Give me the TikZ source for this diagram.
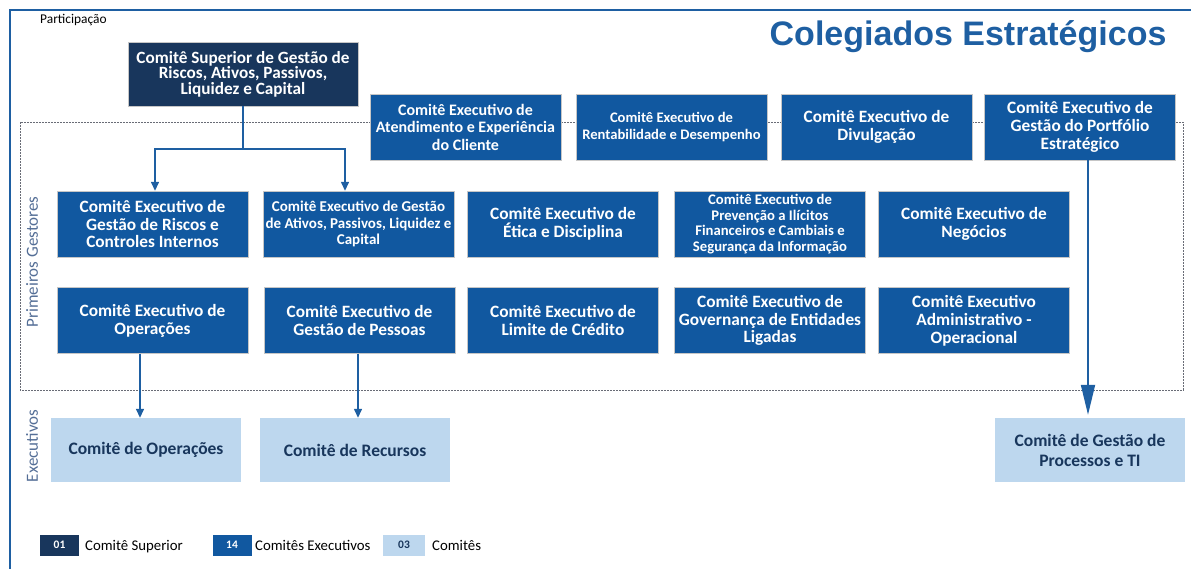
\documentclass[tikz,border=0pt]{standalone}
\usepackage{fontspec}
\setmainfont{Carlito}
\newfontfamily\titlefont{Liberation Sans}
\usetikzlibrary{arrows.meta,positioning}
\definecolor{navy}{RGB}{24,54,92}
\definecolor{execblue}{RGB}{17,88,160}
\definecolor{pale}{RGB}{189,215,238}
\definecolor{arrowblue}{RGB}{30,95,162}
\definecolor{sidegray}{RGB}{84,110,150}
\definecolor{dashgray}{RGB}{105,108,118}
\tikzstyle{sup}=[draw=gray!45, fill=navy, text=white, align=center, minimum width=230pt, minimum height=64pt, inner sep=1pt, font=\bfseries\fontsize{17.2}{15.5}\selectfont]
\tikzstyle{ce}=[draw=gray!45, fill=execblue, text=white, align=center, minimum width=191pt, minimum height=66pt, inner sep=1pt, font=\bfseries\fontsize{17.3}{17.8}\selectfont]
\tikzstyle{cesmall}=[ce, font=\bfseries\fontsize{15}{16.5}\selectfont]
\tikzstyle{com}=[fill=pale, text=navy, align=center, minimum width=190pt, minimum height=64pt, font=\bfseries\fontsize{17.5}{20}\selectfont]
\tikzstyle{legbox}=[minimum width=39pt, minimum height=21pt, inner sep=0pt, font=\bfseries\fontsize{11.5}{12}\selectfont]
\tikzstyle{legtext}=[anchor=base west, inner sep=0pt, font=\fontsize{14.8}{16}\selectfont]
\tikzstyle{sidelabel}=[rotate=90, text=sidegray, font=\fontsize{17}{19}\selectfont]
\tikzstyle{flow}=[draw=arrowblue, line width=1.4pt, -{Triangle[width=8pt,length=9pt]}]
\tikzstyle{bigflow}=[draw=arrowblue, line width=1.8pt, -{Triangle[width=14pt,length=30pt]}]
\begin{document}
\begin{tikzpicture}[x=1pt,y=-1pt]
    \useasboundingbox (0,0) rectangle (1191,569);
    % frame and group outline
    \draw[arrowblue, line width=2.2pt] (1191,10) -- (10,10) -- (10,569);
    \draw[dashgray, dashed, dash pattern=on 2pt off 1pt, line width=0.8pt] (20,122) rectangle (1183,390);
    \node[anchor=east, text=arrowblue, font=\titlefont\bfseries\fontsize{34}{36}\selectfont] (title) at (1170,37) {Colegiados Estratégicos};
    \node[anchor=west, inner sep=0pt, font=\fontsize{13.4}{14}\selectfont] (part) at (40,20) {Participação};
    \node[sidelabel] (prim) at (32,262) {Primeiros Gestores};
    \node[sidelabel] (exe) at (32,446) {Executivos};
    % superior committee
    \node[sup] (super) at (243,74) {Comitê Superior de Gestão de\\Riscos, Ativos, Passivos,\\Liquidez e Capital};
    % first row
    \node[ce, font=\bfseries\fontsize{16}{17.5}\selectfont] (aten) at (465.5,127) {Comitê Executivo de\\Atendimento e Experiência\\do Cliente};
    \node[cesmall, font=\bfseries\fontsize{14.6}{17}\selectfont] (rent) at (671.5,127) {Comitê Executivo de\\Rentabilidade e Desempenho};
    \node[ce] (divu) at (876.5,127) {Comitê Executivo de\\Divulgação};
    \node[ce] (port) at (1080,127) {Comitê Executivo de\\Gestão do Portfólio\\Estratégico};
    % second row
    \node[ce] (risc) at (152.5,224) {Comitê Executivo de\\Gestão de Riscos e\\Controles Internos};
    \node[cesmall] (ativ) at (358.5,224) {Comitê Executivo de Gestão\\de Ativos, Passivos, Liquidez e\\Capital};
    \node[ce] (etic) at (563,224) {Comitê Executivo de\\Ética e Disciplina};
    \node[cesmall, font=\bfseries\fontsize{14.7}{15.5}\selectfont] (prev) at (770,224) {Comitê Executivo de\\Prevenção a Ilícitos\\Financeiros e Cambiais e\\Segurança da Informação};
    \node[ce] (nego) at (974,224) {Comitê Executivo de\\Negócios};
    % third row
    \node[ce] (oper) at (152.5,320.5) {Comitê Executivo de\\Operações};
    \node[ce] (pess) at (359.5,320.5) {Comitê Executivo de\\Gestão de Pessoas};
    \node[ce] (limi) at (563,320.5) {Comitê Executivo de\\Limite de Crédito};
    \node[ce] (gove) at (770,320.5) {Comitê Executivo de\\Governança de Entidades\\Ligadas};
    \node[ce] (admi) at (974,320.5) {Comitê Executivo\\Administrativo -\\Operacional};
    % executive committees
    \node[com] (coop) at (146,450) {Comitê de Operações};
    \node[com] (recu) at (355,450) {Comitê de Recursos};
    \node[com] (proc) at (1090,450) {Comitê de Gestão de\\Processos e TI};
    % connectors
    \coordinate (fork) at (243,149);
    \draw[flow] (super.south) -- (fork) -| ([xshift=2.5pt]risc.north);
    \draw[flow] (fork) -| ([xshift=-13.5pt]ativ.north);
    \draw[flow] ([xshift=-12.5pt]oper.south) -- ([xshift=-6pt]coop.north);
    \draw[flow] ([xshift=-1.5pt]pess.south) -- ([xshift=3pt]recu.north);
    \draw[bigflow, shorten >=3pt] ([xshift=8pt]port.south) -- ([xshift=-2pt]proc.north);
    % legend
    \node[legbox, fill=navy, text=white] (l1) at (59.5,545) {01};
    \node[legtext] (t1) at (85,550) {Comitê Superior};
    \node[legbox, fill=execblue, text=white] (l2) at (232,545) {14};
    \node[legtext] (t2) at (255,550) {Comitês Executivos};
    \node[legbox, minimum width=42pt, fill=pale, text=navy] (l3) at (404,545) {03};
    \node[legtext] (t3) at (432,550) {Comitês};
\end{tikzpicture}
\end{document}
